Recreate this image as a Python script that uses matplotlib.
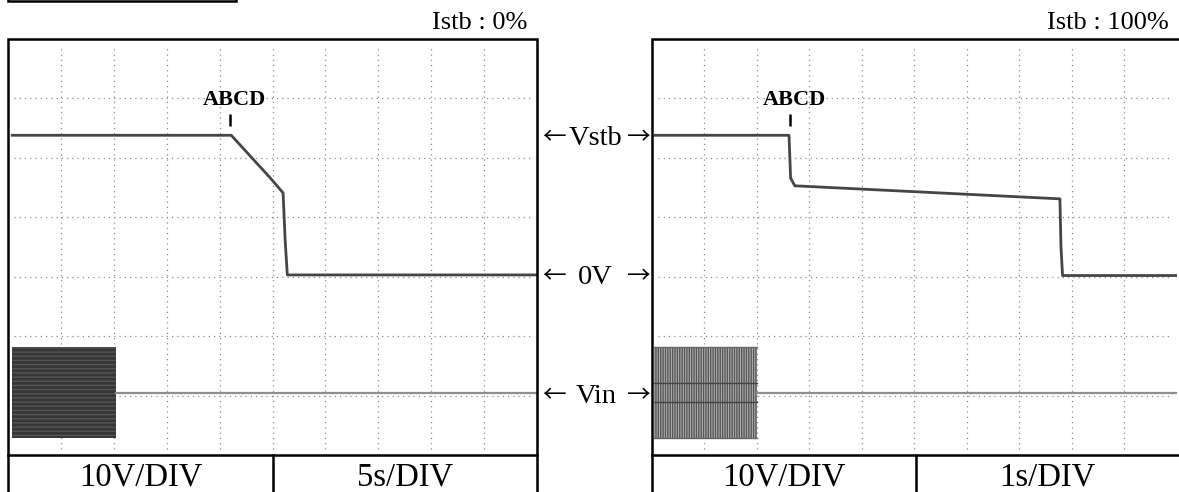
import matplotlib
matplotlib.use("Agg")
import matplotlib.pyplot as plt

# ---- captured waveform data ----
# 10 V/div vertical scale, 7 vertical divisions, 10 horizontal divisions
volts_per_div = 10.0
n_xdiv, n_ydiv = 10, 7
vstb_zero_div = 3.0    # 0 V reference of the Vstb channel (division)
vin_zero_div = 1.0     # 0 V reference of the Vin channel (division)

# left capture: Istb 0 %, 5 s/div
left_sec_per_div = 5.0
left_vstb_t = [0.4, 21.1, 24.7, 26.0, 26.2, 26.4, 50.0]
left_vstb_v = [23.8, 23.8, 16.8, 14.1, 6.0, 0.3, 0.3]
left_vin_on = [0.4, 10.2]          # AC input present (s)
left_vin_t = [10.2, 50.0]          # flat after dropout
left_event_t = 21.0

# right capture: Istb 100 %, 1 s/div
right_sec_per_div = 1.0
right_vstb_t = [0.06, 2.61, 2.64, 2.72, 7.77, 7.79, 7.82, 10.0]
right_vstb_v = [23.8, 23.8, 16.6, 15.3, 13.1, 5.0, 0.2, 0.2]
right_vin_on = [0.04, 2.0]
right_vin_t = [2.0, 10.0]
right_event_t = 2.63

vin_peak = 7.6      # V, AC amplitude
vin_offset = 0.5    # V, trace offset of the Vin channel

panel_titles = ["Istb : 0%", "Istb : 100%"]
scale_labels = [("10V/DIV", "5s/DIV"), ("10V/DIV", "1s/DIV")]
marker_text = "ABCD"
channel_labels = ["Vstb", "0V", "Vin"]

W, H = 1179, 492
fig = plt.figure(figsize=(W / 100, H / 100), dpi=100)
serif = ["Liberation Serif", "DejaVu Serif"]
arrow_font = ["Noto Sans CJK JP", "DejaVu Sans"]

trace_col = "#454545"
grid_col = "#8c8c8c"


def px_axes(x0, x1, y0, y1):
    return fig.add_axes([x0 / W, 1 - y1 / H, (x1 - x0) / W, (y1 - y0) / H])


def vstb_div(v):
    return [vstb_zero_div + x / volts_per_div for x in v]


def vin_div(v):
    return vin_zero_div + v / volts_per_div


def draw_panel(ax, spd, vt, vv, on, vin_t, ev_t, burst_style):
    ax.set_xlim(0, n_xdiv * spd)
    ax.set_ylim(0, n_ydiv)
    for i in range(1, n_xdiv):
        ax.axvline(i * spd, ymin=0.015, ymax=0.985, color=grid_col,
                   lw=0.9, ls=(0, (1, 3.2)), zorder=1)
    for j in range(1, n_ydiv):
        ax.axhline(j, xmin=0.012, xmax=0.99, color=grid_col,
                   lw=0.9, ls=(0, (1, 3.2)), zorder=1)
    # Vstb trace
    ax.plot(vt, vstb_div(vv), color=trace_col, lw=2.0, zorder=4,
            solid_joinstyle="round")
    # Vin: AC burst envelope, then flat line after dropout
    lo = vin_div(vin_offset - vin_peak)
    hi = vin_div(vin_offset + vin_peak)
    if burst_style == "dense":
        ax.fill_between(on, lo, hi, facecolor="#363636", edgecolor="#555555",
                        hatch="----", lw=0, zorder=3)
    else:
        ax.fill_between(on, lo, hi, facecolor="#b4b4b4", edgecolor="#555555",
                        hatch="|||||||", lw=0, zorder=3)
        for dv in (-1.6, 1.6):
            ax.plot(on, [vin_div(vin_offset + dv)] * 2, color="#444444",
                    lw=1.0, zorder=3.5)
        ax.plot(on, [lo, lo], color="#666666", lw=1.0, zorder=3.5)
        ax.plot(on, [hi, hi], color="#666666", lw=1.0, zorder=3.5)
    ax.plot(vin_t, [vin_div(vin_offset)] * 2, color="#8e8e8e", lw=1.6,
            zorder=4)
    # event marker
    ax.plot([ev_t, ev_t], vstb_div([25.4, 27.4]), color="black", lw=1.8,
            zorder=5, solid_capstyle="butt")
    ax.text(ev_t + 0.08 * spd, vstb_div([28.9])[0], marker_text,
            family=serif, fontsize=16, fontweight="bold", ha="center",
            va="baseline", zorder=6)
    ax.set_xticks([])
    ax.set_yticks([])
    for s in ax.spines.values():
        s.set_visible(False)
    ax.patch.set_alpha(0)


# panel extents in pixels
panels = [(8, 537, 273), (652, 1179.5, 916)]
top_y, sep_y = 39, 455

axL = px_axes(8, 537, top_y, sep_y)
draw_panel(axL, left_sec_per_div, left_vstb_t, left_vstb_v, left_vin_on,
           left_vin_t, left_event_t, "dense")
axR = px_axes(652, 1177, top_y, sep_y)
draw_panel(axR, right_sec_per_div, right_vstb_t, right_vstb_v, right_vin_on,
           right_vin_t, right_event_t, "stripes")

# overlay in pixel coordinates for frames, table rows and labels
ov = fig.add_axes([0, 0, 1, 1], zorder=10)
ov.set_xlim(0, W)
ov.set_ylim(H, 0)
ov.axis("off")
ov.patch.set_alpha(0)
lw_frame = 1.8
for (x0, x1, xm), (lab1, lab2) in zip(panels, scale_labels):
    ov.plot([x0, x0, x1, x1], [H + 5, top_y, top_y, H + 5], color="black",
            lw=lw_frame, clip_on=False, solid_joinstyle="miter")
    ov.plot([x0, x1], [sep_y, sep_y], color="black", lw=lw_frame,
            clip_on=False)
    ov.plot([xm, xm], [sep_y, H + 5], color="black", lw=lw_frame,
            clip_on=False)
    ov.text((x0 + xm) / 2, 485, lab1, family=serif, fontsize=23.5,
            ha="center", va="baseline")
    ov.text((xm + min(x1, W)) / 2, 485, lab2, family=serif, fontsize=23.5,
            ha="center", va="baseline")

ov.text(527, 29, panel_titles[0], family=serif, fontsize=19, ha="right",
        va="baseline")
ov.text(1169, 29, panel_titles[1], family=serif, fontsize=19, ha="right",
        va="baseline")

# small frame clipped at the top edge
ov.plot([8, 8, 236, 236], [-10, 1.3, 1.3, -10], color="black", lw=lw_frame,
        clip_on=False, solid_joinstyle="miter")

# channel labels between panels, with long arrows on both sides
label_rows = [(145, 566, 626), (284, 566, 626), (403, 566, 626)]
label_x = [596, 595, 596]
for name, (yb, xl, xr), xc in zip(channel_labels, label_rows, label_x):
    ov.text(xc, yb, name, family=serif, fontsize=20.5, ha="center",
            va="baseline")
    ov.text(xl, yb - 0.5, "←", family=arrow_font, fontsize=17, ha="right",
            va="baseline")
    ov.text(xr, yb - 0.5, "→", family=arrow_font, fontsize=17, ha="left",
            va="baseline")

fig.savefig("out.png", dpi=100)
